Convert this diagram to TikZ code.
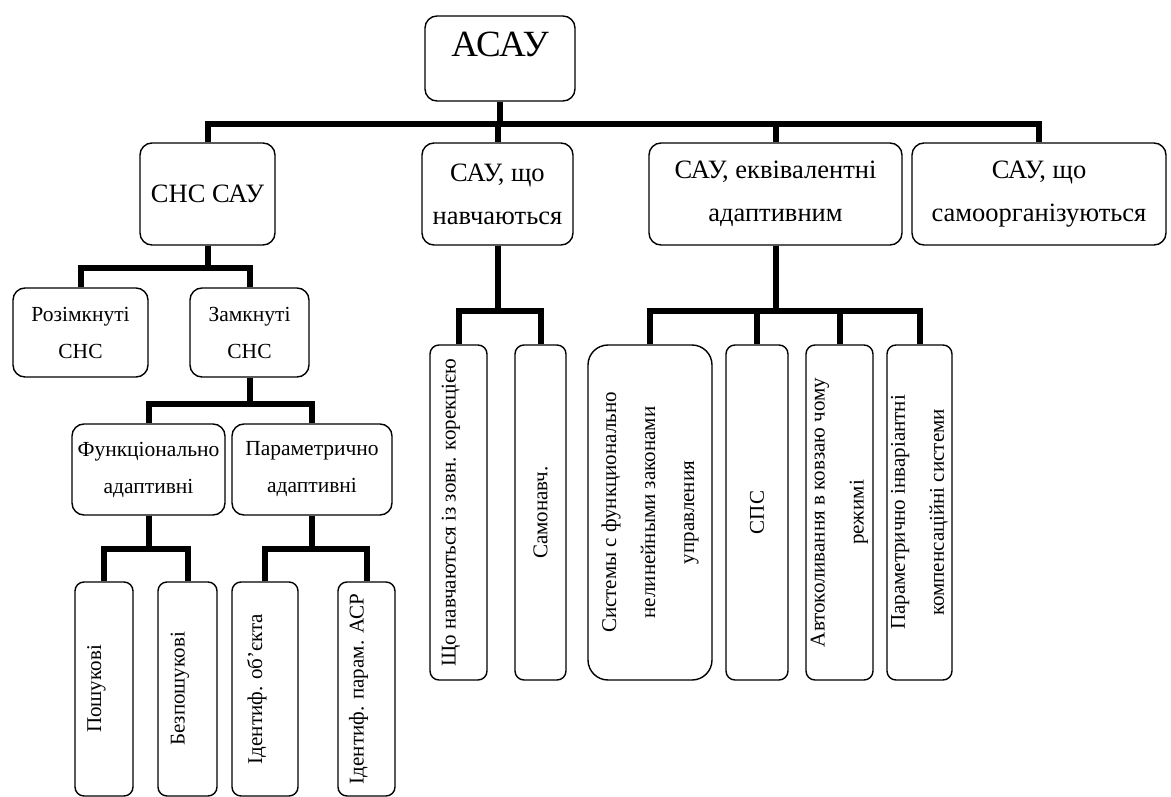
\documentclass[tikz,border=0pt]{standalone}
\usepackage{fontspec}
\setmainfont{Liberation Serif}

\begin{document}
\begin{tikzpicture}[x=1pt, y=-1pt,
    box/.style={draw, line width=1.4pt, rounded corners=12pt, align=center,
      inner sep=2pt, fill=white},
    topbox/.style={box, minimum height=102pt, font=\fontsize{26.5}{43}\selectfont},
    subbox/.style={box, minimum height=90pt, font=\fontsize{21.5}{37}\selectfont},
    vbox/.style={box, rotate=90, rounded corners=9pt, font=\fontsize{21}{39}\selectfont},
    upper/.style={text height=14pt, text depth=20pt},
    link/.style={line width=6pt}
  ]
    \useasboundingbox (0,0) rectangle (1171,797);

    \node[box, minimum width=150pt, minimum height=85pt, inner ysep=0pt,
      text height=27pt, text depth=31pt, font=\fontsize{37}{44}\selectfont] (asau) at (500,58.5) {АСАУ};

    \node[topbox, minimum width=135pt] (chc) at (207.5,194) {СНС САУ};
    \node[topbox, minimum width=151pt] (learn) at (497.5,194) {САУ, що\\навчаються};
    \node[topbox, minimum width=253pt] (equiv) at (775.5,194) {САУ, еквівалентні\\адаптивним};
    \node[topbox, minimum width=254pt] (selforg) at (1039,194) {САУ, що\\самоорганізуються};

    \node[subbox, minimum width=135pt, minimum height=89pt] (rozimk) at (80.5,332.5) {Розімкнуті\\СНС};
    \node[subbox, minimum width=119pt, minimum height=89pt] (zamk) at (249.5,332.5) {Замкнуті\\СНС};
    \node[subbox, minimum width=153pt, minimum height=91pt] (funk) at (148.5,469.5) {Функціонально\\адаптивні};
    \node[subbox, minimum width=160pt, minimum height=91pt] (param) at (312,469.5) {Параметрично\\адаптивні};

    \node[vbox, upper, minimum width=214pt, minimum height=58pt] (poshuk) at (104,689) {Пошукові};
    \node[vbox, upper, minimum width=214pt, minimum height=59pt] (bezposh) at (187.5,689) {Безпошукові};
    \node[vbox, upper, minimum width=214pt, minimum height=66pt] (identobj) at (265,689) {Ідентиф. об’єкта};
    \node[vbox, upper, minimum width=214pt, minimum height=57pt] (identpar) at (366.5,689) {Ідентиф. парам. АСР};

    \node[vbox, upper, minimum width=335pt, minimum height=57pt] (zovn) at (458.5,512.5) {Що навчаються із зовн. корекцією};
    \node[vbox, minimum width=335pt, minimum height=51pt] (samonavch) at (540.5,512.5) {Самонавч.};
    \node[vbox, minimum width=335pt, minimum height=124pt, rounded corners=20pt] (nelin) at (650,512.5) {Системы с функционально\\нелинейными законами\\управления};
    \node[vbox, minimum width=335pt, minimum height=62pt] (sps) at (757,512.5) {СПС};
    \node[vbox, minimum width=335pt, minimum height=67pt] (avtokol) at (839.5,512.5) {Автоколивання в ковзаю чому\\режимі};
    \node[vbox, minimum width=335pt, minimum height=65pt] (invar) at (919.5,512.5) {Параметрично інваріантні\\компенсаційні системи};

    \draw[link] (asau.south) -- ++(0,22) -| (chc.north);
    \draw[link] (asau.south) -- ++(0,22) -| (learn.north);
    \draw[link] (asau.south) -- ++(0,22) -| (equiv.north);
    \draw[link] (asau.south) -- ++(0,22) -| (selforg.north);

    \draw[link] (chc.south) -- ++(0,22) -| (rozimk.north);
    \draw[link] (chc.south) -- ++(0,22) -| (zamk.north);
    \draw[link] (zamk.south) -- ++(0,26) -| (funk.north);
    \draw[link] (zamk.south) -- ++(0,26) -| (param.north);
    \draw[link] (funk.south) -- ++(0,33) -| (poshuk.east);
    \draw[link] (funk.south) -- ++(0,33) -| (bezposh.east);
    \draw[link] (param.south) -- ++(0,33) -| (identobj.east);
    \draw[link] (param.south) -- ++(0,33) -| (identpar.east);

    \draw[link] (learn.south) -- ++(0,65) -| (zovn.east);
    \draw[link] (learn.south) -- ++(0,65) -| (samonavch.east);
    \draw[link] (equiv.south) -- ++(0,65) -| (nelin.east);
    \draw[link] (equiv.south) -- ++(0,65) -| (sps.east);
    \draw[link] (equiv.south) -- ++(0,65) -| (avtokol.east);
    \draw[link] (equiv.south) -- ++(0,65) -| (invar.east);
  \end{tikzpicture}
\end{document}
